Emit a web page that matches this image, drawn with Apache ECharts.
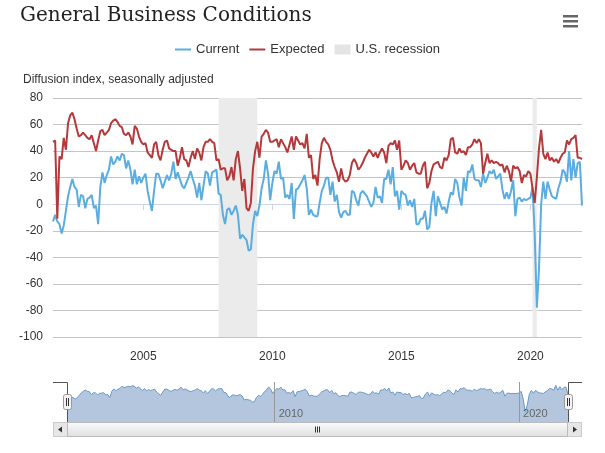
<!DOCTYPE html>
<html>
<head>
<meta charset="utf-8">
<script src="https://cdn.jsdelivr.net/npm/echarts@6/dist/echarts.min.js"></script>
<style>
  html, body { margin: 0; padding: 0; background: #fff; }
  #chart { width: 605px; height: 453px; }
</style>
</head>
<body>
<div id="chart"></div>
<script>
// monthly observations, first one is July 2001, last one January 2022
const current = [
  -13, -8, -13, -15, -22, -16, -5, 6, 13, 19, 13, 11, -2, 7, 6, -3, 4, 5, 7, -3, -1, -15, 13, 24,
  16, 22, 26, 36, 30, 32, 36, 33, 38, 37, 27, 33, 26, 15, 26, 15, 21, 16, 20, 23, 10, 2, -5,
  10, 23, 23, 18, 12, 17, 22, 18, 23, 32, 19, 24, 19, 14, 12, 16, 20, 25, 19, 14, 5, 16, 3, 14,
  25, 23, 14, 24, 25, 26, 8, 7, -8, -15, -4, -3, -8, -5, -1, -8,
  -26, -23, -25,
  -27, -35, -34, -15, -5, -9, -1, 12, 19, 33, 23, 3,
  16, 25, 23, 32, 19, 20, 5, 7, 4, 16, -11, 11,
  12, 15, 18, 22, 12, -8, -4, -8, -9, -9, 1, 10,
  14, 20, 20, 7, 17, 2, 7, -6, -10, -6, -5, -8,
  -8, 10, 9, 3, -1, 8, 10, 8, 6, 2, -2, 1,
  13, 5, 6, 1, 19, 19, 26, 15, 28, 6, 10, -4,
  10, 8, 7, -1, 3, -2, 4, -15, -15, -11, -11, -5,
  -19, -17, 1, 10, -9, 6, 1, -4, -2, -7, 2, 9,
  7, 19, 16, 5, -1, 20, 10, 25, 24, 30, 19, 18,
  18, 13, 23, 16, 20, 25, 23, 26, 19, 21, 23, 11,
  4, 9, 4, 10, 18, -9, 4, 5, 2, 4, 3, 4,
  5, 13, -22, -78, -49, 0, 17, 4, 17, 11, 6, 5,
  4, 12, 17, 26, 24, 17, 40, 18, 34, 20, 31, 32,
  -1
];
const expected = [
  47, 48, -11, 36, 34, 50, 41, 61, 67, 69, 64, 57, 51, 52, 54, 52, 50, 49, 52, 46, 40, 48, 55, 56,
  52, 54, 56, 61, 63, 64, 62, 59, 58, 53, 52, 54, 51, 45, 59, 57, 51, 47, 45, 46, 39, 37, 35, 45,
  47, 37, 33, 41, 47, 48, 42, 41, 40, 40, 29, 35, 43, 34, 33, 28, 35, 40, 34, 42, 39, 33, 43, 47,
  47, 49, 47, 46, 33, 34, 26, 27, 27, 18, 21, 28, 18, 34, 40, 27, 10, 19, -3, -5, 1, 27, 40, 47,
  35, 51, 53, 56, 54, 47, 47, 48, 49, 43, 49, 46, 43, 39, 45, 51, 41, 51, 48,
  45, 46, 42, 53, 35, 37, 19, 22, 14, 34, 46, 50, 47, 45, 41, 33, 28, 24, 17, 27, 19, 17, 18, 22,
  31, 34, 31, 26, 28, 31, 35, 38, 41, 39, 36, 39, 35, 39, 42, 39, 31, 44, 46, 45, 48, 41, 48, 26,
  29, 33, 31, 26, 29, 31, 24, 23, 23, 29, 32, 12, 16, 25, 30, 31, 32, 28, 27, 35, 33, 37, 49, 50,
  39, 38, 42, 39, 40, 37, 43, 43, 45, 49, 46, 49, 46, 23, 31, 38, 31, 33, 31, 32, 31, 29, 30, 24,
  29, 25, 17, 29, 27, 28, 25, 16, 22, 21, 25, 23, 12, 1, 20, 42, 56, 38, 34, 39, 33, 35, 32, 34,
  31, 35, 38, 39, 48, 45, 49, 50, 52, 35, 35, 34
];
const recessionStart = ['2007-12', '2020-02'];
const recessionEnd = ['2009-06', '2020-04'];
const axisYears = [2005, 2010, 2015, 2020];
const navigatorYears = [2010, 2020];

// x is measured in years: July 2001 -> 2001.5
const monthX = i => 2001.5 + i / 12;
const pairs = arr => arr.map((v, i) => [monthX(i), v]);
const ymX = s => { const p = s.split('-'); return +p[0] + (+p[1] - 1) / 12; };
const xMin = monthX(0), xMax = monthX(current.length - 1);
const lineIcon = 'path://M0,0h16v2h-16z';

const chart = echarts.init(document.getElementById('chart'));
chart.setOption({
  animation: false,
  textStyle: { fontFamily: 'Liberation Sans, Arial, sans-serif' },
  title: [
    {
      text: 'General Business Conditions', left: 15, top: 1,
      textStyle: { fontFamily: 'DejaVu Serif', fontSize: 20, fontWeight: 'normal', color: '#222' }
    },
    {
      text: 'Diffusion index, seasonally adjusted', left: 18, top: 69,
      textStyle: { fontSize: 12, fontWeight: 'normal', color: '#333' }
    }
  ],
  legend: {
    left: 170, top: 38, itemWidth: 16, itemHeight: 10, itemGap: 10,
    textStyle: { fontSize: 13, color: '#333' },
    data: [
      { name: 'Current', icon: lineIcon },
      { name: 'Expected', icon: lineIcon },
      { name: 'U.S. recession', icon: 'rect', itemStyle: { color: '#e4e4e4' } }
    ]
  },
  grid: [
    { left: 53, right: 23, top: 98, bottom: 116 },
    { left: 67, right: 37, top: 382, height: 40 }
  ],
  xAxis: [
    {
      type: 'value', gridIndex: 0, min: xMin, max: xMax,
      axisLine: { lineStyle: { color: '#ccd6eb' } },
      axisTick: { show: true, length: 6, customValues: axisYears, lineStyle: { color: '#ccd6eb' } },
      axisLabel: { customValues: axisYears, formatter: v => String(v), color: '#333', fontSize: 12, margin: 14 },
      splitLine: { show: false }
    },
    {
      type: 'value', gridIndex: 1, min: xMin, max: xMax, z: 5,
      axisLine: { show: false },
      axisTick: { show: false },
      axisLabel: {
        inside: true, customValues: navigatorYears, formatter: v => String(v),
        align: 'left', verticalAlign: 'bottom', margin: 3, padding: [0, 0, 0, 4], color: '#666', fontSize: 11
      },
      splitLine: { show: false }
    }
  ],
  yAxis: [
    {
      type: 'value', gridIndex: 0, min: -100, max: 80, interval: 20,
      axisLine: { show: false }, axisTick: { show: false },
      axisLabel: { color: '#333', fontSize: 12, margin: 10 },
      splitLine: { lineStyle: { color: '#c4c4c4' } }
    },
    { type: 'value', gridIndex: 1, min: -125, max: 55, show: false }
  ],
  series: [
    {
      name: 'U.S. recession', type: 'line', data: [], z: 1, color: '#e4e4e4',
      markArea: {
        silent: true,
        itemStyle: { color: '#ebebeb' },
        data: recessionStart.map((s, i) => [{ xAxis: ymX(s) }, { xAxis: ymX(recessionEnd[i]) }])
      }
    },
    {
      name: 'Current', type: 'line', data: pairs(current), symbol: 'none', z: 3,
      color: '#5aade0', lineStyle: { width: 2, color: '#5aade0' }
    },
    {
      name: 'Expected', type: 'line', data: pairs(expected), symbol: 'none', z: 4,
      color: '#b5393b', lineStyle: { width: 2, color: '#b5393b' }
    },
    {
      name: 'navigator', type: 'line', xAxisIndex: 1, yAxisIndex: 1, data: pairs(current),
      symbol: 'none', silent: true,
      lineStyle: { width: 1, color: '#6a99c7' },
      areaStyle: { color: '#b3c6dd', opacity: 1, origin: 'start' },
      markLine: {
        silent: true, symbol: 'none', label: { show: false },
        lineStyle: { color: '#999', type: 'solid', width: 1 },
        data: navigatorYears.map(y => ({ xAxis: y }))
      }
    }
  ],
  graphic: [
    // export menu button
    { type: 'rect', shape: { x: 563, y: 15, width: 15, height: 2.5 }, style: { fill: '#666' } },
    { type: 'rect', shape: { x: 563, y: 20, width: 15, height: 2.5 }, style: { fill: '#666' } },
    { type: 'rect', shape: { x: 563, y: 25, width: 15, height: 2.5 }, style: { fill: '#666' } },
    // navigator outline
    { type: 'polyline', shape: { points: [[53, 382.5], [67.5, 382.5], [67.5, 422]] }, style: { stroke: '#555', lineWidth: 1, fill: null }, z: 10 },
    { type: 'polyline', shape: { points: [[568.5, 422], [568.5, 382.5], [582, 382.5]] }, style: { stroke: '#555', lineWidth: 1, fill: null }, z: 10 },
    // handles
    { type: 'rect', shape: { x: 63.5, y: 394.5, width: 8, height: 15, r: 2 }, style: { fill: '#f2f2f2', stroke: '#999' }, z: 11 },
    { type: 'line', shape: { x1: 66.5, y1: 398, x2: 66.5, y2: 406 }, style: { stroke: '#333' }, z: 12 },
    { type: 'line', shape: { x1: 68.5, y1: 398, x2: 68.5, y2: 406 }, style: { stroke: '#333' }, z: 12 },
    { type: 'rect', shape: { x: 564.5, y: 394.5, width: 8, height: 15, r: 2 }, style: { fill: '#f2f2f2', stroke: '#999' }, z: 11 },
    { type: 'line', shape: { x1: 567.5, y1: 398, x2: 567.5, y2: 406 }, style: { stroke: '#333' }, z: 12 },
    { type: 'line', shape: { x1: 569.5, y1: 398, x2: 569.5, y2: 406 }, style: { stroke: '#333' }, z: 12 },
    // scrollbar
    { type: 'rect', shape: { x: 53.5, y: 422.5, width: 528, height: 14 }, style: { fill: '#f2f2f2', stroke: '#ccc' }, z: 10 },
    { type: 'rect', shape: { x: 53.5, y: 422.5, width: 14, height: 14 }, style: { fill: '#e6e6e6', stroke: '#ccc' }, z: 11 },
    { type: 'polygon', shape: { points: [[62, 426.5], [62, 432.5], [58, 429.5]] }, style: { fill: '#333' }, z: 12 },
    { type: 'rect', shape: { x: 567.5, y: 422.5, width: 14, height: 14 }, style: { fill: '#e6e6e6', stroke: '#ccc' }, z: 11 },
    { type: 'polygon', shape: { points: [[573, 426.5], [573, 432.5], [577, 429.5]] }, style: { fill: '#333' }, z: 12 },
    {
      type: 'rect', shape: { x: 67.5, y: 422.5, width: 500, height: 14 }, z: 11,
      style: {
        stroke: '#bbb',
        fill: new echarts.graphic.LinearGradient(0, 0, 0, 1, [
          { offset: 0, color: '#fbfbfb' }, { offset: 1, color: '#dedede' }
        ])
      }
    },
    { type: 'line', shape: { x1: 315.5, y1: 426.5, x2: 315.5, y2: 432.5 }, style: { stroke: '#333' }, z: 12 },
    { type: 'line', shape: { x1: 317.5, y1: 426.5, x2: 317.5, y2: 432.5 }, style: { stroke: '#333' }, z: 12 },
    { type: 'line', shape: { x1: 319.5, y1: 426.5, x2: 319.5, y2: 432.5 }, style: { stroke: '#333' }, z: 12 }
  ]
});
</script>
</body>
</html>
